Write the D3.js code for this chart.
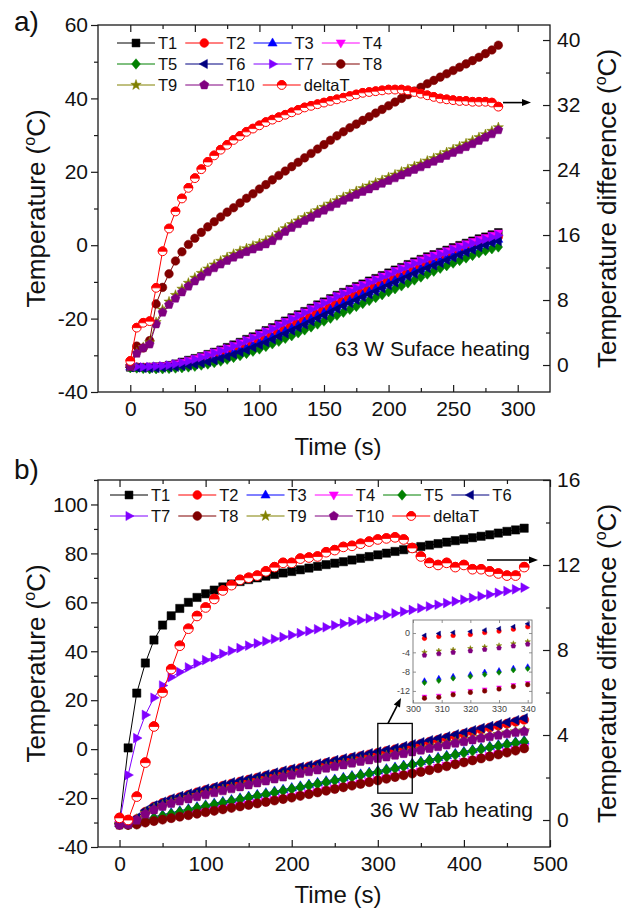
<!DOCTYPE html>
<html>
<head>
<meta charset="utf-8">
<script src="https://cdn.jsdelivr.net/npm/d3@7/dist/d3.min.js"></script>
<style>
  html, body { margin: 0; padding: 0; background: #fff; }
  svg { display: block; }
</style>
</head>
<body>
<svg id="chart" width="634" height="913"></svg>
<script>
// ---------- Panel a: 63 W surface heating ----------
const timeA = [0,5,10,15,20,25,30,35,40,45,50,55,60,65,70,75,80,85,90,95,100,105,110,115,120,125,130,135,140,145,150,155,160,165,170,175,180,185,190,195,200,205,210,215,220,225,230,235,240,245,250,255,260,265,270,275,280,285];
const a_T1 = [-33.3,-33.3,-33.3,-33.2,-33.1,-33.0,-32.7,-32.3,-31.8,-31.3,-30.8,-30.3,-29.7,-29.1,-28.5,-27.8,-27.1,-26.4,-25.6,-24.9,-24.1,-23.2,-22.4,-21.5,-20.6,-19.7,-18.9,-18.0,-17.1,-16.2,-15.4,-14.5,-13.6,-12.8,-12.0,-11.2,-10.5,-9.7,-9.0,-8.2,-7.5,-6.7,-6.0,-5.2,-4.5,-3.8,-3.1,-2.5,-1.9,-1.3,-0.6,0.0,0.6,1.2,1.8,2.3,2.9,3.5];
const a_T2 = [-33.0,-33.2,-33.3,-33.3,-33.3,-33.2,-33.1,-32.9,-32.6,-32.3,-31.9,-31.5,-31.0,-30.5,-29.9,-29.3,-28.7,-28.0,-27.3,-26.6,-25.9,-25.1,-24.3,-23.4,-22.6,-21.8,-20.9,-20.0,-19.2,-18.3,-17.5,-16.6,-15.7,-14.9,-14.1,-13.3,-12.5,-11.7,-10.9,-10.1,-9.3,-8.5,-7.7,-6.9,-6.2,-5.5,-4.8,-4.1,-3.4,-2.7,-2.0,-1.4,-0.7,-0.1,0.6,1.2,1.8,2.3];
const a_T3 = [-33.2,-33.3,-33.4,-33.4,-33.4,-33.3,-33.2,-33.1,-32.9,-32.6,-32.3,-31.9,-31.5,-31.0,-30.5,-29.9,-29.3,-28.7,-28.0,-27.3,-26.6,-25.8,-25.0,-24.2,-23.4,-22.6,-21.8,-20.9,-20.1,-19.2,-18.4,-17.5,-16.7,-15.9,-15.1,-14.3,-13.5,-12.7,-11.9,-11.1,-10.3,-9.5,-8.7,-7.9,-7.1,-6.4,-5.6,-4.9,-4.2,-3.5,-2.8,-2.1,-1.5,-0.8,-0.2,0.4,1.0,1.6];
const a_T4 = [-33.2,-33.2,-33.2,-33.1,-33.0,-32.9,-32.7,-32.3,-31.9,-31.4,-30.9,-30.4,-29.8,-29.2,-28.6,-28.0,-27.3,-26.6,-25.8,-25.1,-24.3,-23.4,-22.6,-21.7,-20.8,-19.9,-19.1,-18.2,-17.3,-16.4,-15.6,-14.7,-13.8,-13.0,-12.2,-11.4,-10.7,-9.9,-9.2,-8.4,-7.7,-6.9,-6.2,-5.4,-4.7,-4.0,-3.3,-2.7,-2.1,-1.5,-0.8,-0.2,0.4,1.0,1.6,2.1,2.7,3.3];
const a_T5 = [-33.4,-33.5,-33.6,-33.7,-33.7,-33.7,-33.6,-33.5,-33.4,-33.2,-33.0,-32.7,-32.4,-32.0,-31.6,-31.1,-30.6,-30.1,-29.5,-28.9,-28.3,-27.6,-26.9,-26.2,-25.4,-24.7,-23.9,-23.1,-22.3,-21.5,-20.7,-19.9,-19.1,-18.3,-17.5,-16.7,-15.9,-15.1,-14.3,-13.5,-12.7,-11.9,-11.1,-10.3,-9.5,-8.7,-7.9,-7.1,-6.3,-5.6,-4.9,-4.2,-3.5,-2.8,-2.1,-1.5,-1.0,-0.5];
const a_T6 = [-33.3,-33.4,-33.5,-33.5,-33.5,-33.4,-33.3,-33.2,-33.0,-32.8,-32.5,-32.2,-31.8,-31.4,-30.9,-30.4,-29.8,-29.2,-28.6,-27.9,-27.2,-26.5,-25.7,-24.9,-24.1,-23.3,-22.5,-21.7,-20.8,-20.0,-19.1,-18.3,-17.4,-16.6,-15.8,-15.0,-14.2,-13.4,-12.6,-11.8,-11.0,-10.2,-9.4,-8.6,-7.8,-7.0,-6.3,-5.6,-4.9,-4.1,-3.4,-2.7,-2.0,-1.3,-0.6,0.0,0.6,1.1];
const a_T7 = [-33.0,-33.1,-33.2,-33.1,-33.0,-32.9,-32.7,-32.4,-32.0,-31.6,-31.1,-30.6,-30.0,-29.4,-28.8,-28.2,-27.5,-26.8,-26.0,-25.3,-24.5,-23.6,-22.8,-21.9,-21.0,-20.1,-19.3,-18.4,-17.5,-16.6,-15.8,-14.9,-14.0,-13.2,-12.5,-11.7,-11.0,-10.2,-9.5,-8.7,-8.0,-7.2,-6.5,-5.7,-5.0,-4.4,-3.7,-3.1,-2.5,-1.9,-1.2,-0.6,0.0,0.5,1.1,1.6,2.2,2.7];
const a_T8 = [-33,-27.5,-28,-26,-16,-11.5,-7.8,-4.3,-1.8,0.2,1.9,3.5,5,6.4,7.7,9,10.2,11.5,12.8,14,15.3,16.5,17.8,19,20.2,21.4,22.6,23.8,25,26.2,27.4,28.6,29.8,30.9,32,33,34,35,36,37,38,39,40,41,42,43,44,44.9,45.8,46.7,47.6,48.5,49.4,50.3,51.2,52.2,53.2,54.5];
const a_T9 = [-33,-29.3,-27.8,-26.5,-21,-17.6,-15.4,-13.6,-11.9,-10.3,-8.9,-7.6,-6.4,-5.3,-4.3,-3.3,-2.4,-1.6,-0.9,-0.2,0.5,1.2,2.1,3.4,4.6,5.7,6.7,7.6,8.5,9.5,10.4,11.3,12.2,13.1,13.9,14.7,15.5,16.2,17,17.7,18.5,19.2,20,20.7,21.5,22.2,23,23.7,24.5,25.3,26.1,26.9,27.7,28.5,29.4,30.2,31.1,32.1];
const a_T10 = [-33,-29.5,-28,-27,-21.5,-18.3,-16.2,-14.5,-12.8,-11.2,-9.8,-8.5,-7.3,-6.2,-5.2,-4.2,-3.3,-2.5,-1.8,-1.1,-0.4,0.3,1.2,2.5,3.7,4.8,5.8,6.7,7.6,8.6,9.5,10.4,11.3,12.2,13,13.8,14.6,15.3,16.1,16.8,17.6,18.3,19.1,19.8,20.6,21.3,22.1,22.8,23.6,24.4,25.2,26,26.8,27.6,28.5,29.4,30.3,31.4];
const a_deltaT = [0.5,4.6,5.2,5.4,9.5,14,16.8,18.9,20.5,21.8,23,24.1,25,25.8,26.5,27.1,27.7,28.2,28.7,29.1,29.5,29.9,30.2,30.5,30.8,31.1,31.4,31.7,31.9,32.1,32.3,32.5,32.7,32.9,33.1,33.3,33.5,33.6,33.7,33.8,33.9,33.9,33.9,33.8,33.6,33.4,33.2,33,32.8,32.7,32.6,32.5,32.5,32.4,32.4,32.4,32.3,31.8];

const a_xTicks = [0,50,100,150,200,250,300];
const a_yTicks = [-40,-20,0,20,40,60];
const a_rTicks = [0,8,16,24,32,40];

// ---------- Panel b: 36 W tab heating ----------
const timeB = [0,10,20,30,40,50,60,70,80,90,100,110,120,130,140,150,160,170,180,190,200,210,220,230,240,250,260,270,280,290,300,310,320,330,340,350,360,370,380,390,400,410,420,430,440,450,460,470];
const b_T1 = [-30,0.5,22.9,35.2,44.6,50.7,54.5,57.5,60,62,63.5,65,66.3,67.5,68.5,69.3,70,70.7,71.4,72,72.6,73.3,74,74.7,75.4,76,76.6,77.3,78,78.7,79.4,80.1,80.8,81.5,82.2,82.8,83.4,84,84.6,85.2,85.8,86.4,87,87.6,88.3,89,89.6,90.3];
const b_T2 = [-30.2,-30.7,-28.6,-25.6,-23.5,-22,-20.7,-19.7,-18.7,-17.7,-16.7,-15.9,-15,-14.1,-13.3,-12.5,-11.7,-10.9,-10.1,-9.3,-8.5,-7.8,-7.1,-6.4,-5.7,-5,-4.3,-3.6,-2.9,-2.2,-1.5,-0.8,-0.1,0.6,1.4,2.2,3,3.8,4.6,5.4,6.2,7.1,8,8.8,9.6,10.4,11.2,12];
const b_T3 = [-30.3,-30.5,-30.1,-28.7,-27.7,-26.8,-26,-25.2,-24.4,-23.6,-22.8,-22.1,-21.4,-20.7,-20,-19.3,-18.6,-17.9,-17.2,-16.5,-15.8,-15.1,-14.4,-13.7,-13,-12.3,-11.6,-10.9,-10.2,-9.5,-8.8,-8.1,-7.4,-6.6,-5.8,-5,-4.2,-3.4,-2.6,-1.8,-1,-0.2,0.5,1.2,1.8,2.4,3,3.5];
const b_T4 = [-30.8,-30.8,-30.5,-29.7,-29.1,-28.5,-27.9,-27.3,-26.7,-26.1,-25.5,-24.9,-24.3,-23.7,-23.1,-22.5,-21.9,-21.3,-20.7,-20.1,-19.5,-18.8,-18.1,-17.4,-16.7,-16,-15.3,-14.6,-13.9,-13.2,-12.5,-11.8,-11.1,-10.4,-9.7,-9,-8.3,-7.5,-6.7,-5.9,-5.1,-4.3,-3.5,-2.7,-1.9,-1.1,-0.3,0.6];
const b_T5 = [-30.5,-30.8,-30.5,-29.2,-28.2,-27.3,-26.5,-25.7,-24.9,-24.1,-23.3,-22.6,-21.9,-21.2,-20.5,-19.8,-19.1,-18.4,-17.7,-17,-16.3,-15.6,-14.9,-14.2,-13.5,-12.8,-12.1,-11.4,-10.7,-10,-9.3,-8.6,-7.9,-7.1,-6.3,-5.5,-4.7,-3.9,-3.1,-2.3,-1.5,-0.7,0,0.7,1.3,1.9,2.5,3];
const b_T6 = [-30.5,-30.5,-28,-25,-23,-21.5,-20.2,-19.2,-18.2,-17.2,-16.2,-15.4,-14.5,-13.6,-12.8,-12,-11.2,-10.4,-9.6,-8.8,-8,-7.3,-6.6,-5.9,-5.2,-4.5,-3.8,-3.1,-2.4,-1.7,-1,-0.3,0.4,1.2,2,2.8,3.6,4.4,5.2,6,6.8,7.7,8.6,9.4,10.2,11,11.8,12.6];
const b_T7 = [-30,-10.6,4.5,14,21,26,29.4,31.5,33.4,35,36.4,37.6,39,40.2,41.3,42.3,43.2,44.1,45,45.8,46.6,47.4,48.2,49,49.8,50.6,51.3,52,52.7,53.4,54.1,54.8,55.5,56.2,56.9,57.6,58.3,59,59.7,60.4,61.1,61.8,62.5,63.2,63.9,64.6,65.3,66];
const b_T8 = [-31,-31,-30.8,-30,-29.4,-28.8,-28.2,-27.6,-27,-26.4,-25.8,-25.2,-24.6,-24,-23.4,-22.8,-22.2,-21.6,-21,-20.4,-19.8,-19.1,-18.4,-17.7,-17,-16.3,-15.6,-14.9,-14.2,-13.5,-12.8,-12.1,-11.4,-10.7,-10,-9.3,-8.6,-7.8,-7,-6.2,-5.4,-4.6,-3.8,-3,-2.2,-1.4,-0.6,0.3];
const b_T9 = [-30.8,-30.6,-28.7,-26.1,-24.4,-23,-21.8,-20.8,-19.9,-19,-18.2,-17.4,-16.6,-15.8,-15,-14.2,-13.4,-12.6,-11.8,-11,-10.2,-9.5,-8.8,-8.1,-7.4,-6.7,-6,-5.3,-4.6,-4,-3.4,-2.8,-2.1,-1.4,-0.7,0,0.7,1.4,2.1,2.8,3.5,4.2,4.9,5.5,6.1,6.7,7.2,7.6];
const b_T10 = [-31,-30.8,-29,-26.5,-24.8,-23.4,-22.2,-21.2,-20.3,-19.4,-18.6,-17.8,-17,-16.2,-15.4,-14.6,-13.8,-13,-12.2,-11.4,-10.6,-9.9,-9.2,-8.5,-7.8,-7.1,-6.4,-5.7,-5,-4.4,-3.8,-3.2,-2.5,-1.8,-1.1,-0.4,0.3,1,1.7,2.4,3.1,3.8,4.5,5.1,5.7,6.3,6.8,7.2];
const b_deltaT = [0.1,0,1.1,2.7,4.4,6,7.1,8.2,9,9.6,10,10.4,10.8,11.05,11.3,11.4,11.5,11.7,11.9,12.1,12.1,12.3,12.35,12.4,12.6,12.7,12.85,12.9,13,13.1,13.2,13.25,13.3,13.2,12.8,12.4,12.1,12,12.1,11.9,12,11.8,11.8,11.7,11.6,11.5,11.5,11.9];

const b_xTicks = [0,100,200,300,400,500];
const b_yTicks = [-40,-20,0,20,40,60,80,100];
const b_rTicks = [0,4,8,12,16];

// Zoomed view of 300-340 s (panel b inset)
const insetTime = [304,309,314,320,325,330,335,340];
const inset_T2 = [-1.1,-0.7,-0.5,-0.3,0.1,0.4,0.8,1.3];
const inset_T3 = [-9.8,-9.3,-8.9,-8.5,-8.0,-7.7,-7.2,-6.9];
const inset_T4 = [-13.2,-13.0,-12.5,-12.0,-11.7,-11.3,-10.8,-10.4];
const inset_T5 = [-10.3,-9.9,-9.4,-9.0,-8.6,-8.2,-7.7,-7.4];
const inset_T6 = [-0.5,-0.1,0.1,0.3,0.6,0.9,1.3,1.9];
const inset_T8 = [-13.5,-13.3,-12.8,-12.3,-12.0,-11.6,-11.1,-10.7];
const inset_T9 = [-4.0,-3.7,-3.5,-3.2,-2.9,-2.6,-2.2,-1.8];
const inset_T10 = [-4.6,-4.3,-4.0,-3.7,-3.4,-3.1,-2.7,-2.3];
const inset_xTicks = [300,310,320,330,340];
const inset_yTicks = [-12,-8,-4,0];

// ---------- Series styling ----------
const names  = ['T1','T2','T3','T4','T5','T6','T7','T8','T9','T10'];
const colors = ['#000000','#ff0000','#0000ff','#ff00ff','#008000','#000080','#8000ff','#800000','#808000','#800080'];
const shapes = ['square','circle','up','down','diamond','left','right','circle','star','pentagon'];
const deltaColor = '#ff0000';

const FONT = "'Liberation Sans', Arial, Helvetica, sans-serif";
const INK = '#1a1a1a';
const svg = d3.select('#chart');

function shapePath(shape, r) {
  const f = v => v.toFixed(2);
  switch (shape) {
    case 'square': { const s = r * 0.9; return `M${f(-s)},${f(-s)}H${f(s)}V${f(s)}H${f(-s)}Z`; }
    case 'circle': return `M${f(-r)},0A${f(r)},${f(r)} 0 1,0 ${f(r)},0A${f(r)},${f(r)} 0 1,0 ${f(-r)},0Z`;
    case 'up':    return `M0,${f(-r*1.15)}L${f(r*1.05)},${f(r*0.7)}L${f(-r*1.05)},${f(r*0.7)}Z`;
    case 'down':  return `M0,${f(r*1.15)}L${f(r*1.05)},${f(-r*0.7)}L${f(-r*1.05)},${f(-r*0.7)}Z`;
    case 'left':  return `M${f(-r*1.15)},0L${f(r*0.7)},${f(-r*1.05)}L${f(r*0.7)},${f(r*1.05)}Z`;
    case 'right': return `M${f(r*1.15)},0L${f(-r*0.7)},${f(-r*1.05)}L${f(-r*0.7)},${f(r*1.05)}Z`;
    case 'diamond': return `M0,${f(-r*1.2)}L${f(r*1.0)},0L0,${f(r*1.2)}L${f(-r*1.0)},0Z`;
    case 'star': {
      let s = '';
      for (let i = 0; i < 10; i++) {
        const a = -Math.PI / 2 + i * Math.PI / 5;
        const rr = i % 2 ? r * 0.5 : r * 1.25;
        s += (i ? 'L' : 'M') + f(rr * Math.cos(a)) + ',' + f(rr * Math.sin(a));
      }
      return s + 'Z';
    }
    case 'pentagon': {
      let s = '';
      for (let i = 0; i < 5; i++) {
        const a = -Math.PI / 2 + i * 2 * Math.PI / 5;
        s += (i ? 'L' : 'M') + f(r * 1.1 * Math.cos(a)) + ',' + f(r * 1.1 * Math.sin(a));
      }
      return s + 'Z';
    }
  }
}

function drawMarker(g, shape, color, x, y, r) {
  if (shape === 'half') {
    g.append('circle').attr('cx', x).attr('cy', y).attr('r', r)
      .attr('fill', '#fff').attr('stroke', color).attr('stroke-width', 1);
    g.append('path')
      .attr('d', `M${x - r},${y}A${r},${r} 0 0,1 ${x + r},${y}Z`)
      .attr('fill', color).attr('stroke', color).attr('stroke-width', 0.8);
    return;
  }
  g.append('path').attr('d', shapePath(shape, r))
    .attr('transform', `translate(${x},${y})`)
    .attr('fill', color).attr('stroke', color).attr('stroke-width', 0.5);
}

function plotSeries(g, times, values, x, y, shape, color, r, withLine) {
  const pts = times.map((t, i) => [x(t), y(values[i])]);
  if (withLine) {
    g.append('path').attr('d', d3.line()(pts))
      .attr('fill', 'none').attr('stroke', color).attr('stroke-width', 1);
  }
  pts.forEach(p => drawMarker(g, shape, color, p[0], p[1], r));
}

function styleAxis(g, size) {
  g.select('.domain').remove();
  g.selectAll('line').attr('stroke', INK).attr('stroke-width', 1.2);
  g.selectAll('text').attr('font-family', FONT).attr('font-size', size).attr('fill', '#111');
  g.attr('font-family', FONT);
}

function minorsOf(ticks, step, lo, hi) {
  return d3.range(lo, hi + 1e-9, step).filter(v => !ticks.includes(v));
}

// rotated "… (°C)" axis title, centred on (x, y)
function tempLabel(g, x, y, str) {
  const t = g.append('text').attr('transform', `translate(${x},${y}) rotate(-90)`)
    .attr('text-anchor', 'middle').attr('font-family', FONT).attr('font-size', 26).attr('fill', '#111');
  t.append('tspan').text(str + ' (');
  t.append('tspan').attr('font-size', 16).attr('dy', -10).text('o');
  t.append('tspan').attr('dy', 10).text('C)');
}

function drawArrow(g, x1, y1, x2, y2) {
  const ang = Math.atan2(y2 - y1, x2 - x1);
  const L = 9, W = 3.5;
  const bx = x2 - L * Math.cos(ang), by = y2 - L * Math.sin(ang);
  g.append('line').attr('x1', x1).attr('y1', y1).attr('x2', bx).attr('y2', by)
    .attr('stroke', '#000').attr('stroke-width', 1.6);
  g.append('path')
    .attr('d', `M${x2},${y2}L${bx - W * Math.sin(ang)},${by + W * Math.cos(ang)}L${bx + W * Math.sin(ang)},${by - W * Math.cos(ang)}Z`)
    .attr('fill', '#000');
}

function drawLegend(g, rows, x0, y0, dy) {
  rows.forEach((row, ri) => {
    let x = x0;
    const y = y0 + ri * dy;
    row.forEach(item => {
      g.append('line').attr('x1', x).attr('x2', x + 38).attr('y1', y).attr('y2', y)
        .attr('stroke', item.color).attr('stroke-width', 1);
      drawMarker(g, item.shape, item.color, x + 19, y, 4.4);
      const t = g.append('text').attr('x', x + 41).attr('y', y).attr('dy', '0.36em')
        .attr('font-family', FONT).attr('font-size', 16.5).attr('fill', '#111').text(item.name);
      x = x + 41 + t.node().getComputedTextLength() + 8;
    });
  });
}

function frameAndAxes(g, o) {
  const { x, y, yr, L, R, T, B, xTicks, xMinor, yTicks, yMinor, rTicks, rMinor } = o;
  // left axis: ticks outward
  g.append('g').attr('transform', `translate(${L},0)`)
    .call(d3.axisLeft(y).tickValues(yTicks).tickSize(7).tickPadding(3).tickFormat(d => String(d)))
    .call(a => styleAxis(a, 21));
  g.append('g').attr('transform', `translate(${L},0)`)
    .call(d3.axisLeft(y).tickValues(yMinor).tickSize(4).tickFormat(''))
    .call(a => styleAxis(a, 21));
  // bottom axis: ticks inward
  g.append('g').attr('transform', `translate(0,${B})`)
    .call(d3.axisBottom(x).tickValues(xTicks).tickSizeInner(-7).tickSizeOuter(0).tickPadding(9).tickFormat(d => String(d)))
    .call(a => styleAxis(a, 21));
  g.append('g').attr('transform', `translate(0,${B})`)
    .call(d3.axisBottom(x).tickValues(xMinor).tickSizeInner(-4).tickSizeOuter(0).tickFormat(''))
    .call(a => styleAxis(a, 21));
  // top mirror ticks
  g.append('g').attr('transform', `translate(0,${T})`)
    .call(d3.axisTop(x).tickValues(xTicks).tickSizeInner(-7).tickSizeOuter(0).tickFormat(''))
    .call(a => styleAxis(a, 21));
  g.append('g').attr('transform', `translate(0,${T})`)
    .call(d3.axisTop(x).tickValues(xMinor).tickSizeInner(-4).tickSizeOuter(0).tickFormat(''))
    .call(a => styleAxis(a, 21));
  // right axis (temperature difference)
  g.append('g').attr('transform', `translate(${R},0)`)
    .call(d3.axisRight(yr).tickValues(rTicks).tickSizeInner(-7).tickSizeOuter(0).tickPadding(7).tickFormat(d => String(d)))
    .call(a => styleAxis(a, 21));
  g.append('g').attr('transform', `translate(${R},0)`)
    .call(d3.axisRight(yr).tickValues(rMinor).tickSizeInner(-4).tickSizeOuter(0).tickFormat(''))
    .call(a => styleAxis(a, 21));
  g.append('rect').attr('x', L).attr('y', T).attr('width', R - L).attr('height', B - T)
    .attr('fill', 'none').attr('stroke', INK).attr('stroke-width', 1.3);
}

const legendItems = names.map((n, i) => ({ name: n, color: colors[i], shape: shapes[i] }));
const deltaItem = { name: 'deltaT', color: deltaColor, shape: 'half' };

// ================= Panel a =================
{
  const L = 98, R = 550, T = 25, B = 392;
  const x = d3.scaleLinear([-25, 325], [L, R]);
  const y = d3.scaleLinear([-40, 60], [B, T]);
  const yr = d3.scaleLinear([-3.32, 41.85], [B, T]);
  const g = svg.append('g');

  const series = [a_T1, a_T2, a_T3, a_T4, a_T5, a_T6, a_T7, a_T8, a_T9, a_T10];
  const plot = g.append('g');
  series.forEach((vals, i) => plotSeries(plot, timeA, vals, x, y, shapes[i], colors[i], 4.3, true));
  plotSeries(plot, timeA, a_deltaT, x, yr, 'half', deltaColor, 4.4, true);

  frameAndAxes(g, {
    x, y, yr, L, R, T, B,
    xTicks: a_xTicks, xMinor: minorsOf(a_xTicks, 25, 25, 300),
    yTicks: a_yTicks, yMinor: minorsOf(a_yTicks, 10, -30, 50),
    rTicks: a_rTicks, rMinor: minorsOf(a_rTicks, 4, 4, 40)
  });

  drawLegend(g, [
    legendItems.slice(0, 4),
    legendItems.slice(4, 8),
    [legendItems[8], legendItems[9], deltaItem]
  ], 117, 43, 21);

  drawArrow(g, 503, yr(32.3), 531, yr(32.3));

  g.append('text').attr('x', 530).attr('y', 356).attr('text-anchor', 'end')
    .attr('font-family', FONT).attr('font-size', 21).attr('fill', '#111').text('63 W Suface heating');

  g.append('text').attr('x', 338).attr('y', 455).attr('text-anchor', 'middle')
    .attr('font-family', FONT).attr('font-size', 24).attr('fill', '#111').text('Time (s)');
  tempLabel(g, 45, (T + B) / 2, 'Temperature');
  tempLabel(g, 616, (T + B) / 2, 'Temperature difference');
  g.append('text').attr('x', 14).attr('y', 31).attr('font-family', FONT)
    .attr('font-size', 28).attr('fill', '#111').text('a)');
}

// ================= Panel b =================
{
  const L = 98, R = 550, T = 480, B = 847;
  const x = d3.scaleLinear([-25, 500], [L, R]);
  const y = d3.scaleLinear([-40, 110], [B, T]);
  const yr = d3.scaleLinear([-1.27, 16], [B, T]);
  const g = svg.append('g');

  const series = [b_T1, b_T2, b_T3, b_T4, b_T5, b_T6, b_T7, b_T8, b_T9, b_T10];
  const plot = g.append('g');
  series.forEach((vals, i) => plotSeries(plot, timeB, vals, x, y, shapes[i], colors[i], 4.6, true));
  plotSeries(plot, timeB, b_deltaT, x, yr, 'half', deltaColor, 4.8, true);

  frameAndAxes(g, {
    x, y, yr, L, R, T, B,
    xTicks: b_xTicks, xMinor: minorsOf(b_xTicks, 50, 50, 450),
    yTicks: b_yTicks, yMinor: minorsOf(b_yTicks, 10, -30, 110),
    rTicks: b_rTicks, rMinor: minorsOf(b_rTicks, 2, 2, 14)
  });

  drawLegend(g, [
    legendItems.slice(0, 6),
    [...legendItems.slice(6, 10), deltaItem]
  ], 110, 495, 21);

  drawArrow(g, 487, 560, 538, 560);

  // highlighted window and pointer to the inset
  g.append('rect').attr('x', x(300)).attr('y', y(10.5)).attr('width', x(340) - x(300)).attr('height', y(-18) - y(10.5))
    .attr('fill', 'none').attr('stroke', '#000').attr('stroke-width', 1.3);
  drawArrow(g, 388, y(10.5), 401, 698);

  g.append('text').attr('x', 533).attr('y', 817).attr('text-anchor', 'end')
    .attr('font-family', FONT).attr('font-size', 21).attr('fill', '#111').text('36 W Tab heating');

  g.append('text').attr('x', 338).attr('y', 903).attr('text-anchor', 'middle')
    .attr('font-family', FONT).attr('font-size', 24).attr('fill', '#111').text('Time (s)');
  tempLabel(g, 45, (T + B) / 2, 'Temperature');
  tempLabel(g, 616, (T + B) / 2, 'Temperature difference');
  g.append('text').attr('x', 14).attr('y', 479).attr('font-family', FONT)
    .attr('font-size', 28).attr('fill', '#111').text('b)');

  // ---- inset ----
  const iL = 413, iR = 532, iT = 620, iB = 703;
  const xi = d3.scaleLinear([300, 341.5], [iL, iR]);
  const yi = d3.scaleLinear([-14.5, 2.7], [iB, iT]);
  const ig = g.append('g');
  ig.append('rect').attr('x', iL).attr('y', iT).attr('width', iR - iL).attr('height', iB - iT)
    .attr('fill', '#fff').attr('stroke', '#777').attr('stroke-width', 0.9);
  const insetSeries = [
    [inset_T2, 1], [inset_T3, 2], [inset_T4, 3], [inset_T5, 4], [inset_T6, 5],
    [inset_T8, 7], [inset_T9, 8], [inset_T10, 9]
  ];
  insetSeries.forEach(([vals, i]) => plotSeries(ig, insetTime, vals, xi, yi, shapes[i], colors[i], 2.3, false));
  const styleInset = a => {
    a.select('.domain').remove();
    a.selectAll('line').attr('stroke', '#777').attr('stroke-width', 0.8);
    a.selectAll('text').attr('font-family', FONT).attr('font-size', 9).attr('fill', '#444');
  };
  ig.append('g').attr('transform', `translate(0,${iB})`)
    .call(d3.axisBottom(xi).tickValues(inset_xTicks).tickSizeInner(-3).tickSizeOuter(0).tickPadding(3).tickFormat(d => String(d)))
    .call(styleInset);
  ig.append('g').attr('transform', `translate(0,${iT})`)
    .call(d3.axisTop(xi).tickValues(inset_xTicks).tickSizeInner(-3).tickSizeOuter(0).tickFormat(''))
    .call(styleInset);
  ig.append('g').attr('transform', `translate(${iL},0)`)
    .call(d3.axisLeft(yi).tickValues(inset_yTicks).tickSizeInner(-3).tickSizeOuter(0).tickPadding(3).tickFormat(d => String(d)))
    .call(styleInset);
  ig.append('g').attr('transform', `translate(${iR},0)`)
    .call(d3.axisRight(yi).tickValues(inset_yTicks).tickSizeInner(-3).tickSizeOuter(0).tickFormat(''))
    .call(styleInset);
}
</script>
</body>
</html>
